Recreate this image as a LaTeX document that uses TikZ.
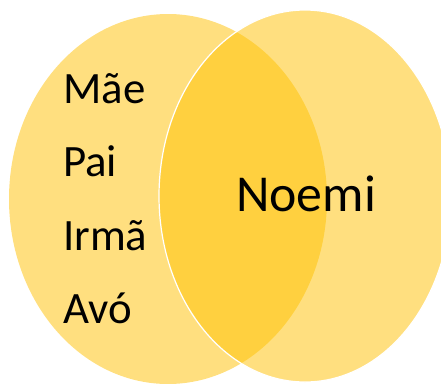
\documentclass[tikz,border=0pt]{standalone}
\usepackage{fontspec}
\setmainfont{Carlito}
\usepackage{tikz}

\definecolor{gold}{HTML}{FFC000}

\tikzset{
	venn/.style={fill=gold, fill opacity=0.5},
	word/.style={anchor=base west, inner sep=0pt, font=\fontsize{45}{54}\selectfont},
}

\begin{document}
\begin{tikzpicture}[x=1bp, y=-1bp]
	
	\useasboundingbox (0,0) rectangle (441,383);
	\clip (0,0) rectangle (441,383);
	
	\fill[venn] (168,199) ellipse [x radius=159, y radius=185];
	\filldraw[venn, draw=white, draw opacity=1, line width=1.2bp] (305,196) ellipse [x radius=146, y radius=186];
	
	\node[word] (mae)   at (63, 103)    {Mãe};
	\node[word] (pai)   at (63, 176)    {Pai};
	\node[word] (irma)  at (63, 250)    {Irmã};
	\node[word] (avo)   at (63, 323)    {Avó};
	\node[word, font=\fontsize{52}{62}\selectfont] (noemi) at (236, 211) {Noemi};
	
	\end{tikzpicture}
\end{document}
